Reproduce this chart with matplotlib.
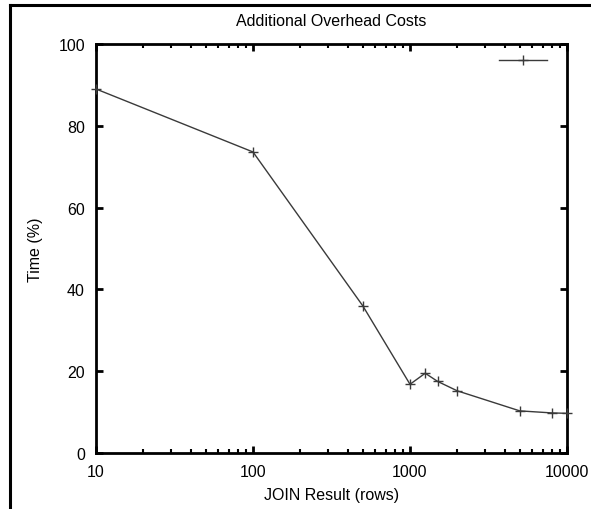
import matplotlib
matplotlib.use("Agg")
import matplotlib.pyplot as plt
from matplotlib.lines import Line2D
from matplotlib.ticker import FixedLocator, LogLocator, NullFormatter, FixedFormatter

plt.rcParams['font.family'] = ['Liberation Sans', 'DejaVu Sans']

rows = [10, 100, 500, 1000, 1250, 1500, 2000, 5000, 8000, 10000]
time_pct = [89.0, 73.6, 36.0, 16.8, 19.5, 17.5, 15.2, 10.3, 9.8, 9.7]
x_ticks = [10, 100, 1000, 10000]
x_ticklabels = ['10', '100', '1000', '10000']
y_ticks = [0, 20, 40, 60, 80, 100]

W, H = 591, 510
fig = plt.figure(figsize=(W / 100, H / 100), dpi=100)
ax = fig.add_axes([96 / W, 1 - 454 / H, (567 - 96) / W, (454 - 45) / H])

line, = ax.plot(rows, time_pct, color='#3a3a3a', lw=1.0, marker='+',
                markersize=7, markeredgewidth=1.0, clip_on=False, zorder=3)

ax.set_xscale('log')
ax.set_xlim(10, 10000)
ax.set_ylim(0, 100)
ax.xaxis.set_major_locator(FixedLocator(x_ticks))
ax.xaxis.set_major_formatter(FixedFormatter(x_ticklabels))
ax.xaxis.set_minor_locator(LogLocator(base=10, subs=range(2, 10)))
ax.xaxis.set_minor_formatter(NullFormatter())
ax.yaxis.set_major_locator(FixedLocator(y_ticks))

for s in ax.spines.values():
    s.set_linewidth(2.0)
ax.tick_params(which='both', direction='in', top=True, right=True,
               labelsize=11.5, color='black')
ax.tick_params(which='major', length=5, width=2.0, pad=8)
ax.tick_params(which='minor', length=3, width=1.5)

ax.set_title('Additional Overhead Costs', fontsize=11.5, pad=14)
ax.set_xlabel('JOIN Result (rows)', fontsize=11.5, labelpad=6)
ax.set_ylabel('Time (%)', fontsize=11.5, labelpad=11)

ax.legend(handles=[line], labels=[''], loc='upper right', frameon=False,
          handlelength=3.0, handletextpad=0.0, borderaxespad=0.3,
          fontsize=11.5, bbox_to_anchor=(0.981, 1.005))

# outer frame (left and top)
fig.add_artist(Line2D([10 / W, 10 / W], [0, 1 - 6 / H], color='black', lw=2.2,
                      transform=fig.transFigure))
fig.add_artist(Line2D([10 / W, 1], [1 - 6 / H, 1 - 6 / H], color='black', lw=2.2,
                      transform=fig.transFigure))

fig.savefig('out.png', dpi=100)
